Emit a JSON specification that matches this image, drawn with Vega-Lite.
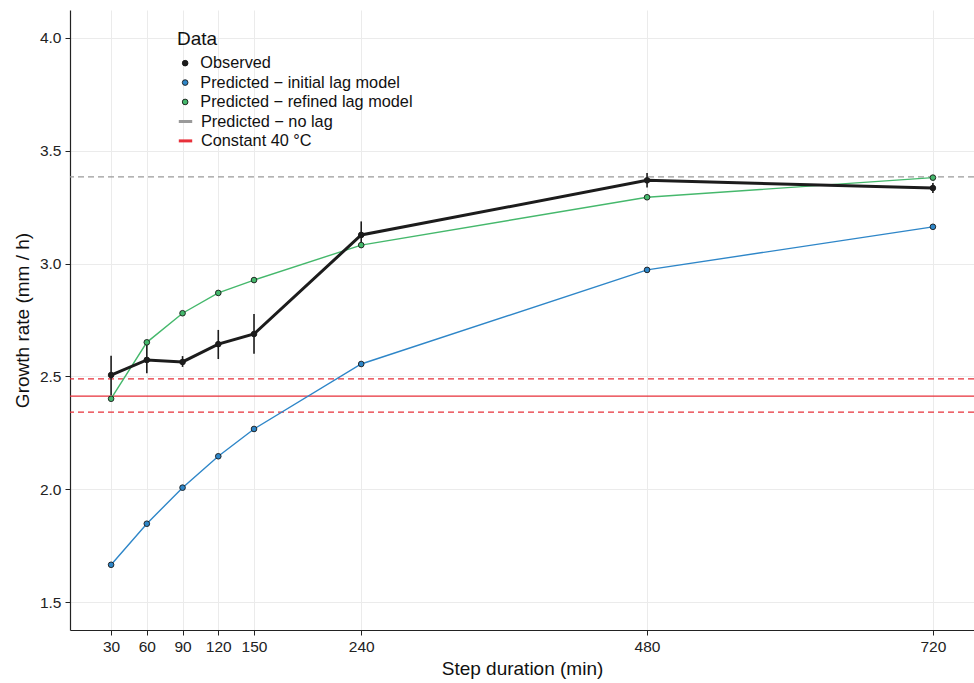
{
  "$schema": "https://vega.github.io/schema/vega-lite/v6.json",
  "width": 904,
  "height": 620,
  "autosize": {"type": "none"},
  "padding": {"left": 70, "top": 10, "right": 0, "bottom": 53},
  "background": "white",
  "config": {
    "font": "Liberation Sans",
    "view": {"stroke": null},
    "axis": {
      "labelFont": "Liberation Sans",
      "labelFontSize": 15.5,
      "labelColor": "#222222",
      "titleFont": "Liberation Sans",
      "titleFontSize": 19,
      "titleFontWeight": "normal",
      "titleColor": "#111111",
      "domainColor": "#222222",
      "domainWidth": 1.2,
      "tickColor": "#222222",
      "tickSize": 5,
      "tickWidth": 1,
      "gridColor": "#ebebeb",
      "gridWidth": 1
    },
    "legend": {
      "titleFont": "Liberation Sans",
      "labelFont": "Liberation Sans",
      "titleFontSize": 19,
      "titleFontWeight": "normal",
      "titleColor": "#111111",
      "labelFontSize": 16.3,
      "labelColor": "#111111",
      "labelLimit": 400,
      "rowPadding": 2.4
    }
  },
  "datasets": {
    "growth": [
      {"step": 30, "rate": 2.506, "lo": 2.418, "hi": 2.591, "series": "Observed"},
      {"step": 60, "rate": 2.573, "lo": 2.514, "hi": 2.653, "series": "Observed"},
      {"step": 90, "rate": 2.564, "lo": 2.542, "hi": 2.590, "series": "Observed"},
      {"step": 120, "rate": 2.643, "lo": 2.577, "hi": 2.706, "series": "Observed"},
      {"step": 150, "rate": 2.688, "lo": 2.600, "hi": 2.777, "series": "Observed"},
      {"step": 240, "rate": 3.127, "lo": 3.069, "hi": 3.187, "series": "Observed"},
      {"step": 480, "rate": 3.369, "lo": 3.337, "hi": 3.402, "series": "Observed"},
      {"step": 720, "rate": 3.335, "lo": 3.313, "hi": 3.357, "series": "Observed"},
      {"step": 30, "rate": 1.665, "series": "Predicted − initial lag model"},
      {"step": 60, "rate": 1.847, "series": "Predicted − initial lag model"},
      {"step": 90, "rate": 2.007, "series": "Predicted − initial lag model"},
      {"step": 120, "rate": 2.146, "series": "Predicted − initial lag model"},
      {"step": 150, "rate": 2.267, "series": "Predicted − initial lag model"},
      {"step": 240, "rate": 2.555, "series": "Predicted − initial lag model"},
      {"step": 480, "rate": 2.972, "series": "Predicted − initial lag model"},
      {"step": 720, "rate": 3.163, "series": "Predicted − initial lag model"},
      {"step": 30, "rate": 2.401, "series": "Predicted − refined lag model"},
      {"step": 60, "rate": 2.651, "series": "Predicted − refined lag model"},
      {"step": 90, "rate": 2.780, "series": "Predicted − refined lag model"},
      {"step": 120, "rate": 2.870, "series": "Predicted − refined lag model"},
      {"step": 150, "rate": 2.927, "series": "Predicted − refined lag model"},
      {"step": 240, "rate": 3.082, "series": "Predicted − refined lag model"},
      {"step": 480, "rate": 3.294, "series": "Predicted − refined lag model"},
      {"step": 720, "rate": 3.381, "series": "Predicted − refined lag model"}
    ],
    "hlines": [
      {"y": 3.384, "label": "Predicted − no lag", "style": "dashed"},
      {"y": 2.413, "label": "Constant 40 °C", "style": "solid"},
      {"y": 2.489, "label": "Constant 40 °C", "style": "dashed"},
      {"y": 2.342, "label": "Constant 40 °C", "style": "dashed"}
    ]
  },
  "layer": [
    {
      "data": {"name": "growth"},
      "mark": {"type": "rule", "opacity": 0},
      "encoding": {
        "x": {
          "field": "step", "type": "quantitative",
          "scale": {"domain": [-4.5, 754.5], "nice": false, "zero": false},
          "axis": {"values": [30, 60, 90, 120, 150, 240, 480, 720], "title": "Step duration (min)", "labelPadding": 4, "titlePadding": 5, "grid": true, "labelFlush": false}
        },
        "y": {
          "field": "rate", "type": "quantitative",
          "scale": {"domain": [1.376, 4.124], "nice": false, "zero": false},
          "axis": {"values": [1.5, 2.0, 2.5, 3.0, 3.5, 4.0], "format": ".1f", "title": "Growth rate (mm / h)", "labelPadding": 4, "titlePadding": 7, "grid": true}
        }
      }
    },
    {
      "data": {"name": "hlines"},
      "mark": {"type": "rule", "strokeWidth": 1.3},
      "encoding": {
        "y": {"field": "y", "type": "quantitative"},
        "stroke": {
          "field": "label", "type": "nominal",
          "scale": {"domain": ["Predicted − no lag", "Constant 40 °C"], "range": ["#9a9a9a", "#e8303a"]},
          "legend": {"title": null, "orient": "none", "legendX": 107, "legendY": 103, "symbolType": "stroke", "symbolStrokeWidth": 3, "symbolSize": 180, "labelOffset": 7}
        },
        "strokeDash": {
          "field": "style", "type": "nominal",
          "scale": {"domain": ["solid", "dashed"], "range": [[1, 0], [6, 4]]},
          "legend": null
        }
      }
    },
    {
      "data": {"name": "growth"},
      "transform": [{"filter": "datum.series !== 'Observed'"}],
      "mark": {"type": "line", "strokeWidth": 1.4},
      "encoding": {
        "x": {"field": "step", "type": "quantitative"},
        "y": {"field": "rate", "type": "quantitative"},
        "color": {
          "field": "series", "type": "nominal",
          "scale": {"domain": ["Predicted − initial lag model", "Predicted − refined lag model"], "range": ["#2e86c8", "#45b86c"]},
          "legend": null
        }
      }
    },
    {
      "data": {"name": "growth"},
      "transform": [{"filter": "datum.series === 'Observed'"}],
      "mark": {"type": "line", "strokeWidth": 3, "color": "#1c1c1c"},
      "encoding": {
        "x": {"field": "step", "type": "quantitative"},
        "y": {"field": "rate", "type": "quantitative"}
      }
    },
    {
      "data": {"name": "growth"},
      "transform": [{"filter": "datum.series === 'Observed'"}],
      "mark": {"type": "rule", "strokeWidth": 1.6, "color": "#1c1c1c"},
      "encoding": {
        "x": {"field": "step", "type": "quantitative"},
        "y": {"field": "lo", "type": "quantitative"},
        "y2": {"field": "hi"}
      }
    },
    {
      "data": {"name": "growth"},
      "mark": {"type": "point", "shape": "circle", "filled": true, "size": 32, "stroke": "#1a1a1a", "strokeWidth": 0.9, "opacity": 1},
      "encoding": {
        "x": {"field": "step", "type": "quantitative"},
        "y": {"field": "rate", "type": "quantitative"},
        "fill": {
          "field": "series", "type": "nominal",
          "scale": {"domain": ["Observed", "Predicted − initial lag model", "Predicted − refined lag model"], "range": ["#1c1c1c", "#2e86c8", "#45b86c"]},
          "legend": {"title": "Data", "orient": "none", "legendX": 107, "legendY": 20, "symbolType": "circle", "symbolSize": 32, "symbolStrokeColor": "#1a1a1a", "symbolStrokeWidth": 0.9, "symbolOpacity": 1, "titlePadding": 6, "labelOffset": 7}
        }
      }
    }
  ]
}
